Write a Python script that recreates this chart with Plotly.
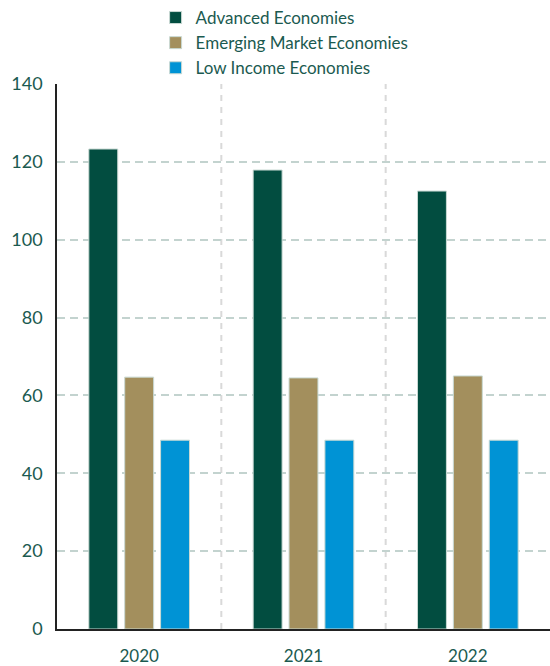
import plotly.graph_objects as go

years = ["2020", "2021", "2022"]
advanced = [123.3, 117.9, 112.5]
emerging = [64.7, 64.5, 65.0]
low_income = [48.5, 48.5, 48.5]
series_names = ["Advanced Economies", "Emerging Market Economies", "Low Income Economies"]
colors = ["#024D40", "#A38F5D", "#0093D5"]
y_ticks = [0, 20, 40, 60, 80, 100, 120, 140]

text_color = "#1B5A50"
font_family = "Lato, Carlito, 'Open Sans', sans-serif"

fig = go.Figure()
for name, vals, col in zip(series_names, [advanced, emerging, low_income], colors):
    fig.add_trace(go.Bar(
        x=years, y=vals, name=name,
        marker=dict(color=col, line=dict(color="#C9D9D3", width=1)),
    ))

# vertical dashed separators between categories
for xpos in [0.5, 1.5]:
    fig.add_shape(type="line", xref="x", yref="y", x0=xpos, x1=xpos, y0=0, y1=140,
                  line=dict(color="#D9D9D9", width=2, dash="6px,6px"), layer="below")

fig.update_layout(
    width=550, height=666,
    margin=dict(l=57, r=0, t=84, b=37, autoexpand=False),
    paper_bgcolor="white", plot_bgcolor="white",
    barmode="group",
    bargap=0.345, bargroupgap=0.194,
    font=dict(family=font_family, color=text_color, size=17),
    legend=dict(
        x=0.2, xanchor="left", y=1.003, yanchor="top", yref="container",
        orientation="v", traceorder="normal",
        font=dict(size=17, color=text_color),
        itemwidth=30, tracegroupgap=0,
        bgcolor="rgba(0,0,0,0)",
    ),
    showlegend=True,
)
fig.update_yaxes(
    range=[0, 140], tickvals=y_ticks, automargin=False,
    showgrid=True, gridcolor="#C3D3CF", gridwidth=1.5, griddash="8px,5px",
    showline=True, linecolor="#222222", linewidth=1.5,
    zeroline=False, ticks="", ticklabelstandoff=9,
    tickfont=dict(size=18, color=text_color),
)
fig.update_xaxes(
    showgrid=False, showline=True, linecolor="#222222", linewidth=1.5,
    ticks="", ticklabelstandoff=11, automargin=False,
    tickfont=dict(size=17, color=text_color),
)
fig.write_html("out.html", config={"displayModeBar": False},
               post_script="document.body.style.margin='0';")
